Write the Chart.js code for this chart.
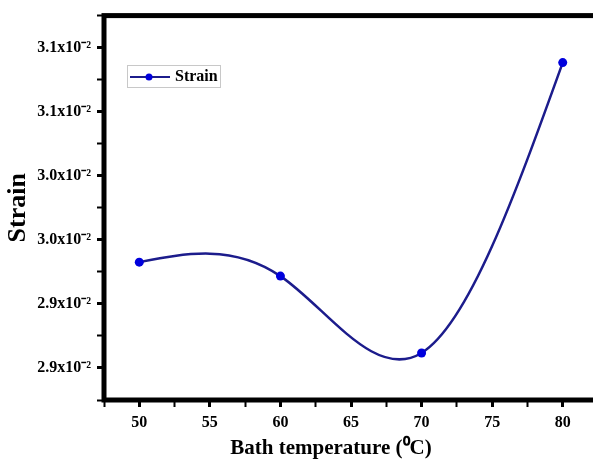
<!DOCTYPE html>
<html>
<head>
<meta charset="utf-8">
<script src="https://cdn.jsdelivr.net/npm/chart.js@4.4.0/dist/chart.umd.min.js"></script>
<style>
  html, body { margin: 0; padding: 0; background: #fff; overflow: hidden; }
</style>
</head>
<body>
<canvas id="grafico" width="662" height="461"></canvas>
<script>
// datos
const temperaturas = [50, 60, 70, 80];
const strain = [0.029326, 0.029217, 0.028617, 0.030883];
const etiquetasX = ['50', '55', '60', '65', '70', '75', '80'];
const etiquetasY = ['2.9x10⁻²', '2.9x10⁻²', '3.0x10⁻²', '3.0x10⁻²', '3.1x10⁻²', '3.1x10⁻²'];

const xMin = 47.5, xMax = 82.5, xPaso = 2.5;
const yMin = 0.02825, yMax = 0.03125, yPaso = 0.00025;

const fuente = '"Liberation Serif", "Times New Roman", serif';

// curva tipo spline natural: reemplaza los puntos de control de Chart.js
function ajustarSpline(pts) {
  const n = pts.length;
  if (n < 3) return;
  const h = [], d = [], a = [], b = [], c = [], r = [];
  const M = new Array(n).fill(0);
  for (let i = 0; i < n - 1; i++) {
    h[i] = pts[i + 1].x - pts[i].x;
    d[i] = (pts[i + 1].y - pts[i].y) / h[i];
  }
  for (let i = 1; i < n - 1; i++) {
    a[i] = h[i - 1]; b[i] = 2 * (h[i - 1] + h[i]); c[i] = h[i];
    r[i] = 6 * (d[i] - d[i - 1]);
  }
  for (let i = 2; i < n - 1; i++) {
    const w = a[i] / b[i - 1];
    b[i] -= w * c[i - 1];
    r[i] -= w * r[i - 1];
  }
  for (let i = n - 2; i >= 1; i--) M[i] = (r[i] - c[i] * M[i + 1]) / b[i];
  for (let i = 0; i < n - 1; i++) {
    const s0 = d[i] - h[i] * (2 * M[i] + M[i + 1]) / 6;
    const s1 = d[i] + h[i] * (M[i] + 2 * M[i + 1]) / 6;
    pts[i].cp2x = pts[i].x + h[i] / 3;
    pts[i].cp2y = pts[i].y + s0 * h[i] / 3;
    pts[i + 1].cp1x = pts[i + 1].x - h[i] / 3;
    pts[i + 1].cp1y = pts[i + 1].y - s1 * h[i] / 3;
  }
}

const curvaSuave = {
  id: 'curvaSuave',
  beforeDatasetDraw(chart, args) {
    const meta = args.meta;
    meta.dataset.updateControlPoints(chart.chartArea, meta.iScale.axis);
    ajustarSpline(meta.data);
  }
};

const marco = {
  id: 'marco',
  afterDatasetsDraw(chart) {
    const { ctx, chartArea: ca } = chart;
    ctx.save();
    ctx.strokeStyle = '#000';
    ctx.lineWidth = 5;
    ctx.strokeRect(ca.left, ca.top, ca.right - ca.left, ca.bottom - ca.top);
    ctx.restore();
  }
};

const leyenda = {
  id: 'leyenda',
  afterDraw(chart) {
    const ctx = chart.ctx;
    const ds = chart.data.datasets[0];
    const x = chart.chartArea.left + 23, y = 65, w = 93, h = 22;
    ctx.save();
    ctx.fillStyle = '#fff';
    ctx.fillRect(x, y, w, h);
    ctx.strokeStyle = '#c8c8c8';
    ctx.lineWidth = 1;
    ctx.strokeRect(x + 0.5, y + 0.5, w, h);
    ctx.strokeStyle = ds.borderColor;
    ctx.lineWidth = 2;
    ctx.beginPath();
    ctx.moveTo(x + 3, y + h / 2 + 1);
    ctx.lineTo(x + 43, y + h / 2 + 1);
    ctx.stroke();
    ctx.fillStyle = ds.pointBackgroundColor;
    ctx.beginPath();
    ctx.arc(x + 22, y + h / 2 + 1, 3.5, 0, 2 * Math.PI);
    ctx.fill();
    ctx.fillStyle = '#000';
    ctx.font = 'bold 16px ' + fuente;
    ctx.textBaseline = 'middle';
    ctx.fillText(ds.label, x + 48, y + h / 2 + 1);
    ctx.restore();
  }
};

new Chart(document.getElementById('grafico'), {
  type: 'line',
  data: {
    datasets: [{
      label: 'Strain',
      data: temperaturas.map((t, i) => ({ x: t, y: strain[i] })),
      borderColor: '#1c1c8c',
      borderWidth: 2.5,
      tension: 0.4,
      pointRadius: 4.5,
      pointBorderWidth: 0,
      pointBackgroundColor: '#0000dd',
      pointBorderColor: '#0000dd'
    }]
  },
  options: {
    responsive: false,
    animation: false,
    layout: { padding: { top: 15, right: 0, left: 0, bottom: 0 } },
    plugins: {
      legend: { display: false },
      tooltip: { enabled: false },
      title: {
        display: true,
        position: 'bottom',
        text: 'Bath temperature (⁰C)',
        color: '#000',
        font: { family: fuente, size: 21, weight: 'bold' },
        padding: { top: 0, bottom: 0 }
      }
    },
    scales: {
      x: {
        type: 'linear',
        min: xMin, max: xMax,
        border: { display: false },
        grid: { drawOnChartArea: false, drawTicks: true, tickLength: 7, tickColor: '#000',
                tickWidth: c => (Math.round((c.tick.value - xMin) / xPaso) % 2 ? 3 : 2) },
        ticks: {
          stepSize: xPaso, maxTicksLimit: 20, autoSkip: false, maxRotation: 0, padding: 6,
          color: '#000', font: { family: fuente, size: 16, weight: 'bold' },
          callback: v => {
            const k = Math.round((v - xMin) / xPaso);
            return k % 2 === 1 ? etiquetasX[(k - 1) / 2] : '';
          }
        },
        afterFit: s => { s.height = 35.8; }
      },
      y: {
        min: yMin, max: yMax,
        border: { display: false },
        grid: { drawOnChartArea: false, drawTicks: true, tickLength: 7, tickColor: '#000',
                tickWidth: c => (Math.round((c.tick.value - yMin) / yPaso) % 2 ? 3 : 2) },
        ticks: {
          stepSize: yPaso, maxTicksLimit: 20, autoSkip: false, padding: 6,
          color: '#000', font: { family: fuente, size: 16, weight: 'bold' },
          callback: v => {
            const k = Math.round((v - yMin) / yPaso);
            return k % 2 === 1 ? etiquetasY[(k - 1) / 2] : '';
          }
        },
        title: {
          display: true, text: 'Strain', color: '#000',
          font: { family: fuente, size: 26, weight: 'bold' },
          padding: { top: 3, bottom: 0 }
        },
        afterFit: s => { s.width = 104; }
      },
      // eje vacio a la derecha, solo reserva el espacio que queda fuera de la ventana
      yDer: {
        position: 'right',
        min: yMin, max: yMax,
        border: { display: false },
        grid: { display: false },
        ticks: { display: false },
        afterFit: s => { s.width = 64; }
      }
    }
  },
  plugins: [curvaSuave, marco, leyenda]
});
</script>
</body>
</html>
